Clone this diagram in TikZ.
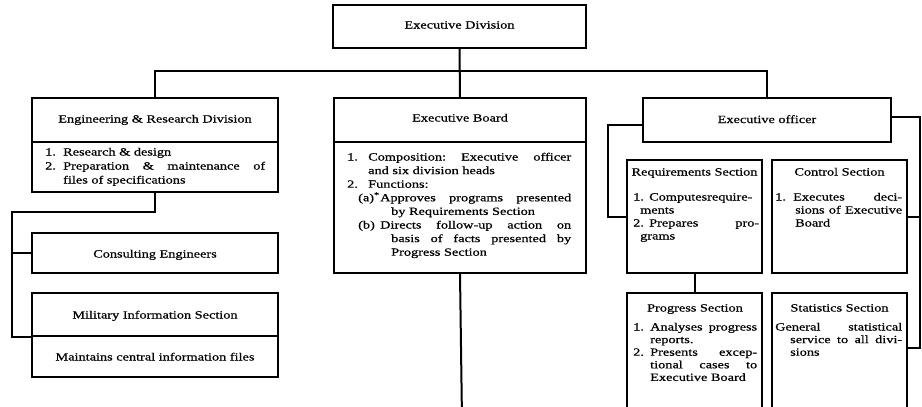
\documentclass[tikz,border=0pt]{standalone}
\usepackage{fontspec}
\setmainfont{Liberation Serif}[FakeStretch=1.3,FakeBold=0.6]
\newcommand\mkbox[5]{\node[box, minimum width={(#4-#2)*1pt}, minimum height={(#5-#3)*1pt}] (#1) at ({(#2+#4)/2},{(#3+#5)/2}) {};}
\begin{document}
\begin{tikzpicture}[x=1pt,y=-1pt,
  box/.style={draw, line width=1.1pt, inner sep=0pt},
  conn/.style={draw, line width=2pt},
  txt/.style={inner sep=0pt, font=\fontsize{11}{13.6}\selectfont},
  txtr/.style={inner sep=0pt, font=\fontsize{11}{13}\selectfont},
  txtp/.style={inner sep=0pt, font=\fontsize{11}{12.6}\selectfont}]
\useasboundingbox (0,0) rectangle (922,407);
\clip (0,0) rectangle (922,407);
\fill[white] (0,0) rectangle (922,407);
% boxes
\mkbox{ed}{333}{5}{586}{48}
\mkbox{engH}{32}{98}{278}{142}
\mkbox{engB}{32}{142}{278}{192}
\mkbox{ce}{32}{233}{278}{273}
\mkbox{miH}{32}{293}{278}{336}
\mkbox{miB}{32}{336}{278}{377}
\mkbox{ebH}{334}{98}{586}{142}
\mkbox{ebB}{334}{142}{586}{273}
\mkbox{eo}{643}{98}{891}{142}
\mkbox{rq}{627}{160}{762}{273}
\mkbox{ct}{772}{160}{907}{273}
\mkbox{pg}{627}{293}{762}{420}
\mkbox{st}{772}{293}{907}{420}
% texts
\node[txt, anchor=base] (edT) at (459.5,28.5) {Executive Division};
\node[txt, anchor=base] (engHT) at (155,122.5) {Engineering \& Research Division};
\node[txt, anchor=base west] (engBT) at (45,155.5) {\fontsize{11}{14}\selectfont\parbox[t]{220pt}{%
\makebox[18pt][l]{1.}Research \& design\\
\makebox[18pt][l]{2.}Preparation\hfill \&\hfill maintenance\hfill of\\
\hspace*{18pt}files of specifications}};
\node[txt, anchor=base] (ceT) at (155,257.5) {Consulting Engineers};
\node[txt, anchor=base] (miHT) at (155,318.5) {Military Information Section};
\node[txt, anchor=base] (miBT) at (155,360.5) {Maintains central information files};
\node[txt, anchor=base] (ebHT) at (460,121.5) {Executive Board};
\node[txt, anchor=base west] (ebBT) at (347,160.5) {\parbox[t]{224pt}{%
\makebox[21pt][l]{1.}Composition:\hfill Executive\hfill officer\\
\hspace*{21pt}and six division heads\\
\makebox[21pt][l]{2.}Functions:\\
\hspace*{11pt}\makebox[22pt][l]{(a)\textsuperscript{*}}Approves\hfill programs\hfill presented\\
\hspace*{44pt}by Requirements Section\\
\hspace*{11pt}\makebox[22pt][l]{(b)}Directs\hfill follow-up\hfill action\hfill on\\
\hspace*{44pt}basis\hfill of\hfill facts\hfill presented\hfill by\\
\hspace*{44pt}Progress Section}};
\node[txt, anchor=base] (eoT) at (767,123) {Executive officer};
\node[txt, anchor=base] (rqHT) at (694.5,175.5) {Requirements Section};
\node[txt, anchor=base] (ctHT) at (839.5,175.5) {Control Section};
\node[txt, anchor=base] (pgHT) at (695,311.5) {Progress Section};
\node[txt, anchor=base] (stHT) at (839.5,311.5) {Statistics Section};
\node[txtr, anchor=base west] (rqBT) at (633,200.5) {\parbox[t]{126pt}{%
\makebox[16pt][l]{1.}Computesrequire-\\
\hspace*{7pt}ments\\
\makebox[16pt][l]{2.}Prepares\hfill pro-\\
\hspace*{7pt}grams}};
\node[txtr, anchor=base west] (ctBT) at (775,200.5) {\parbox[t]{127pt}{%
\makebox[18pt][l]{1.}Executes\hfill deci-\\
\hspace*{20pt}sions\hfill of\hfill Executive\\
\hspace*{20pt}Board}};
\node[txtp, anchor=base west] (pgBT) at (633,330.5) {\parbox[t]{124pt}{%
\makebox[17pt][l]{1.}Analyses\hfill progress\\
\hspace*{17pt}reports.\\
\makebox[17pt][l]{2.}Presents\hfill excep-\\
\hspace*{17pt}tional\hfill cases\hfill to\\
\hspace*{17pt}Executive Board}};
\node[txtp, anchor=base west] (stBT) at (775,330.5) {\parbox[t]{127pt}{%
General\hfill statistical\\
\hspace*{15pt}service\hfill to\hfill all\hfill divi-\\
\hspace*{15pt}sions}};
% connectors
\draw[conn] (ed.south) -- (ebH.north);
\draw[conn] (engH.north) -- ++(0,-26) -| (eo.north);
\coordinate (eL) at (12,212);
\draw[conn] (engB.south) |- (eL) -- (eL |- miH.south) -- (miH.south west);
\draw[conn] (eL |- ce.west) -- (ce.west);
\coordinate (rL) at (608,125);
\draw[conn] ([yshift=-5pt]eo.west) -- (rL) |- (rq.west);
\coordinate (rR) at (920,117);
\draw[conn] ([yshift=3pt]eo.east) -- (rR) |- ([yshift=8.5pt]st.east);
\draw[conn] (rR |- ct.east) -- (ct.east);
\draw[conn] (rq.south) -- (rq.south |- pg.north);
\coordinate (ebEnd) at (462,420);
\draw[conn] (ebB.south) -- (ebEnd);
\end{tikzpicture}
\end{document}
